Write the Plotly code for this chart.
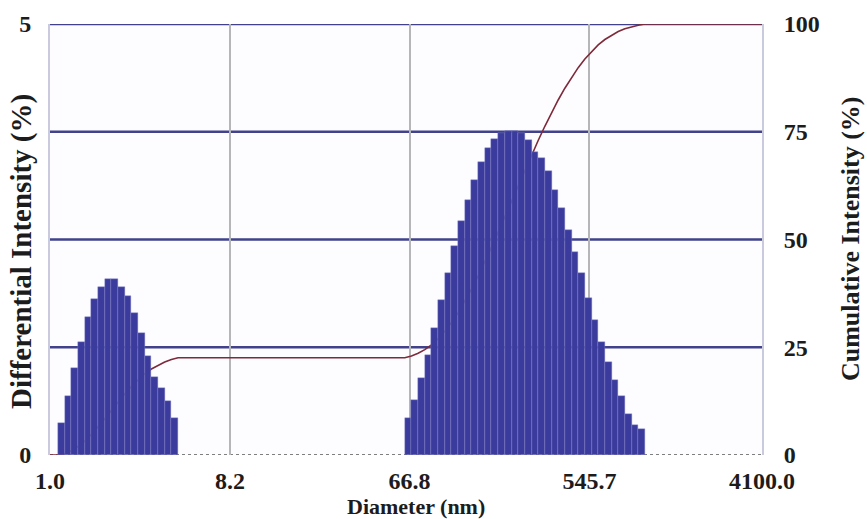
import numpy as np
import plotly.graph_objects as go

# Particle size bins: geometric bin centres (nm) and neighbouring-bin ratio
BIN_RATIO = 1.0810
diam_small = [1.1415, 1.2343, 1.3343, 1.4424, 1.5593, 1.6857, 1.8223, 1.9700, 2.1296,
              2.3022, 2.4888, 2.6904, 2.9085, 3.1442, 3.3990, 3.6744, 3.9722, 4.2941]
diam_large = [65.65, 70.96, 76.71, 82.93, 89.65, 96.91, 104.77, 113.26, 122.43,
              132.36, 143.08, 154.67, 167.21, 180.75, 195.40, 211.24, 228.36, 246.87,
              266.88, 288.50, 311.88, 337.16, 364.48, 394.0, 425.9, 460.4, 497.8,
              538.1, 581.7, 628.9, 679.8, 734.9, 794.4, 858.8, 928.4, 1003.7]

# Differential intensity (%) per bin
diff_small = [0.37, 0.68, 1.01, 1.31, 1.60, 1.81, 1.95, 2.04, 2.04, 1.95, 1.84, 1.65,
              1.42, 1.15, 0.90, 0.78, 0.63, 0.43]
diff_large = [0.43, 0.64, 0.89, 1.16, 1.47, 1.80, 2.11, 2.42, 2.71, 2.96, 3.19, 3.40,
              3.56, 3.67, 3.74, 3.76, 3.76, 3.74, 3.66, 3.52, 3.44, 3.29, 3.07, 2.86,
              2.61, 2.36, 2.11, 1.82, 1.57, 1.31, 1.08, 0.87, 0.68, 0.48, 0.35, 0.30]

# Axis ticks
x_tick_vals = [1.0, 8.2, 66.8, 545.7, 4100.0]
x_tick_text = ["1.0", "8.2", "66.8", "545.7", "4100.0"]
diff_tick_vals = [0, 5]
cum_tick_vals = [0, 25, 50, 75, 100]
x_range = [1.0, 4100.0]

FONT = "Liberation Serif, Times New Roman, serif"
TXT = "#1c1c1c"

centres = np.array(diam_small + diam_large)
diffs = np.array(diff_small + diff_large)
half = np.sqrt(BIN_RATIO)
lower = centres / half
upper = centres * half

# Cumulative intensity built from the differential distribution
cum = np.cumsum(diffs) / diffs.sum() * 100.0
cx, cy = [x_range[0], lower[0]], [0.0, 0.0]
for i in range(len(centres)):
    if i > 0 and lower[i] > upper[i - 1] * 1.001:
        cx.append(lower[i])
        cy.append(cum[i - 1])
    cx.append(upper[i])
    cy.append(cum[i])
cx.append(x_range[1])
cy.append(100.0)

fig = go.Figure()

fig.add_trace(go.Scatter(
    x=cx, y=cy, mode="lines", yaxis="y",
    line=dict(color="#7d2a3a", width=1.6),
    showlegend=False,
))

fig.add_trace(go.Bar(
    x=lower, y=diffs, width=upper - lower, offset=0, yaxis="y2",
    marker=dict(color="#3b3b9d", line=dict(color="#8484cc", width=0.4)),
    showlegend=False,
))

# Horizontal reference lines at the cumulative ticks, dotted baseline at zero
shapes = []
for v in cum_tick_vals[1:]:
    shapes.append(dict(type="line", xref="x", yref="y", x0=x_range[0], x1=x_range[1],
                       y0=v, y1=v, line=dict(color="#41418c", width=2.5), layer="below"))
shapes.append(dict(type="line", xref="x", yref="y", x0=x_range[0], x1=x_range[1],
                   y0=0, y1=0, line=dict(color="#555555", width=1.5, dash="dot"),
                   layer="below"))

tick_font = dict(family=FONT, size=24, color=TXT, weight="bold")

fig.update_layout(
    width=867, height=519,
    margin=dict(l=50, r=105, t=24, b=64),
    paper_bgcolor="white",
    plot_bgcolor="#fdfdff",
    bargap=0,
    shapes=shapes,
    xaxis=dict(
        type="log", range=[np.log10(x_range[0]), np.log10(x_range[1])],
        tickvals=x_tick_vals, ticktext=x_tick_text, tickfont=tick_font,
        showgrid=True, gridcolor="#b6b6b8", gridwidth=1.5,
        zeroline=False, showline=False, ticks="", ticklabelstandoff=9,
    ),
    yaxis=dict(
        side="right", range=[0, 100], tickvals=cum_tick_vals, tickfont=tick_font,
        showgrid=False, zeroline=False, showline=True, linecolor="#cacadf", linewidth=2,
        ticks="", ticklabelstandoff=15,
    ),
    yaxis2=dict(
        side="left", overlaying="y", range=[0, 5], tickvals=diff_tick_vals,
        tickfont=tick_font, showgrid=False, zeroline=False, showline=True,
        linecolor="#cacadf", linewidth=2, ticks="", ticklabelstandoff=12,
    ),
    annotations=[
        dict(text="Differential Intensity (%)", xref="paper", yref="paper",
             x=-0.0393, y=0.471, xanchor="center", yanchor="middle", textangle=-90,
             showarrow=False, font=dict(family=FONT, size=29, color=TXT, weight="bold")),
        dict(text="Cumulative Intensity (%)", xref="paper", yref="paper",
             x=1.1236, y=0.501, xanchor="center", yanchor="middle", textangle=-90,
             showarrow=False, font=dict(family=FONT, size=26, color=TXT, weight="bold")),
        dict(text="Diameter (nm)", xref="paper", yref="paper",
             x=0.514, y=-0.1195, xanchor="center", yanchor="middle",
             showarrow=False, font=dict(family=FONT, size=22, color=TXT, weight="bold")),
    ],
)

fig.write_html("out.html")
